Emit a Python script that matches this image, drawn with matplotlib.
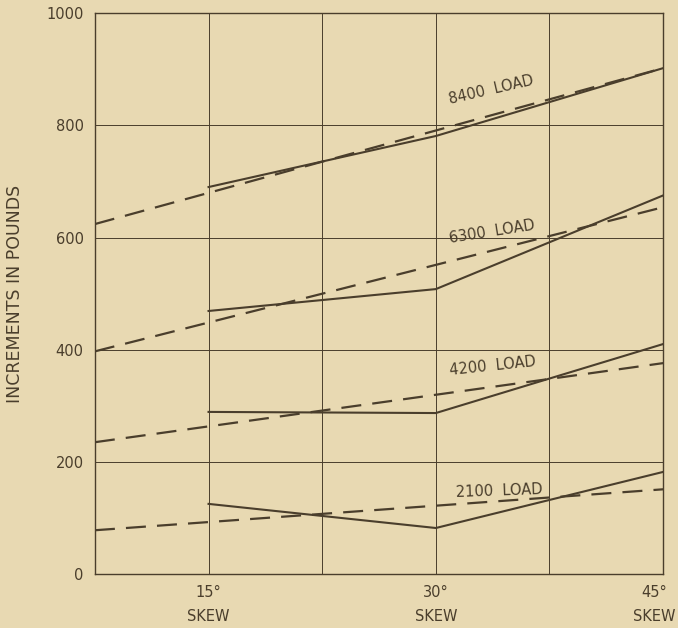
import matplotlib.pyplot as plt
import matplotlib.transforms as mtransforms

# skew angles (degrees) of the measured points
skew = [15, 30, 45]
# measured increments (solid lines)
load_8400 = [690, 781, 902]
load_6300 = [469, 508, 675]
load_4200 = [289, 287, 410]
load_2100 = [125, 82, 182]

# fitted straight lines (dashed), from left edge to 45 deg
fit_x = [7.5, 45]
fit_8400 = [624, 902]
fit_6300 = [397, 654]
fit_4200 = [235, 376]
fit_2100 = [78, 151]

labels = ['8400  LOAD', '6300  LOAD', '4200  LOAD', '2100  LOAD']
label_pos = [(30.9, 845), (30.9, 598), (30.9, 362), (31.3, 146)]
label_rot = [13, 9, 6, 2]

bg = '#e8d9b2'
ink = '#4a3e2c'

fig = plt.figure(figsize=(6.78, 6.28), dpi=100, facecolor=bg)
ax = fig.add_axes([0.140, 0.086, 0.838, 0.893], facecolor=bg)

solids = [load_8400, load_6300, load_4200, load_2100]
fits = [fit_8400, fit_6300, fit_4200, fit_2100]
for s, f in zip(solids, fits):
    ax.plot(skew, s, color=ink, lw=1.5, solid_joinstyle='miter')
    ax.plot(fit_x, f, color=ink, lw=1.6, dashes=(9, 5))

for txt, (x, y), r in zip(labels, label_pos, label_rot):
    ax.text(x, y, txt, rotation=r, color=ink, fontsize=10.5, ha='left',
            va='center', rotation_mode='anchor')

ax.set_xlim(7.5, 45)
ax.set_ylim(0, 1000)
ax.set_xticks([15, 22.5, 30, 37.5, 45])
ax.set_xticklabels(['15°\nSKEW', '', '30°\nSKEW', '', '45°\nSKEW'],
                   linespacing=1.7, fontsize=11.5)
ax.set_yticks(range(0, 1001, 200))
ax.tick_params(length=0, colors=ink, labelsize=10.5, pad=8)
# keep the 45 deg label inside the figure
lab = ax.get_xticklabels()[-1]
lab.set_transform(lab.get_transform() +
                  mtransforms.ScaledTranslation(-9 / 100, 0, fig.dpi_scale_trans))
ax.grid(True, color=ink, lw=0.7)
for sp in ax.spines.values():
    sp.set_color(ink)
    sp.set_linewidth(1.0)
ax.set_ylabel('INCREMENTS IN POUNDS', color=ink, fontsize=12.5, labelpad=16)

fig.savefig('out.png', dpi=100, facecolor=bg)
